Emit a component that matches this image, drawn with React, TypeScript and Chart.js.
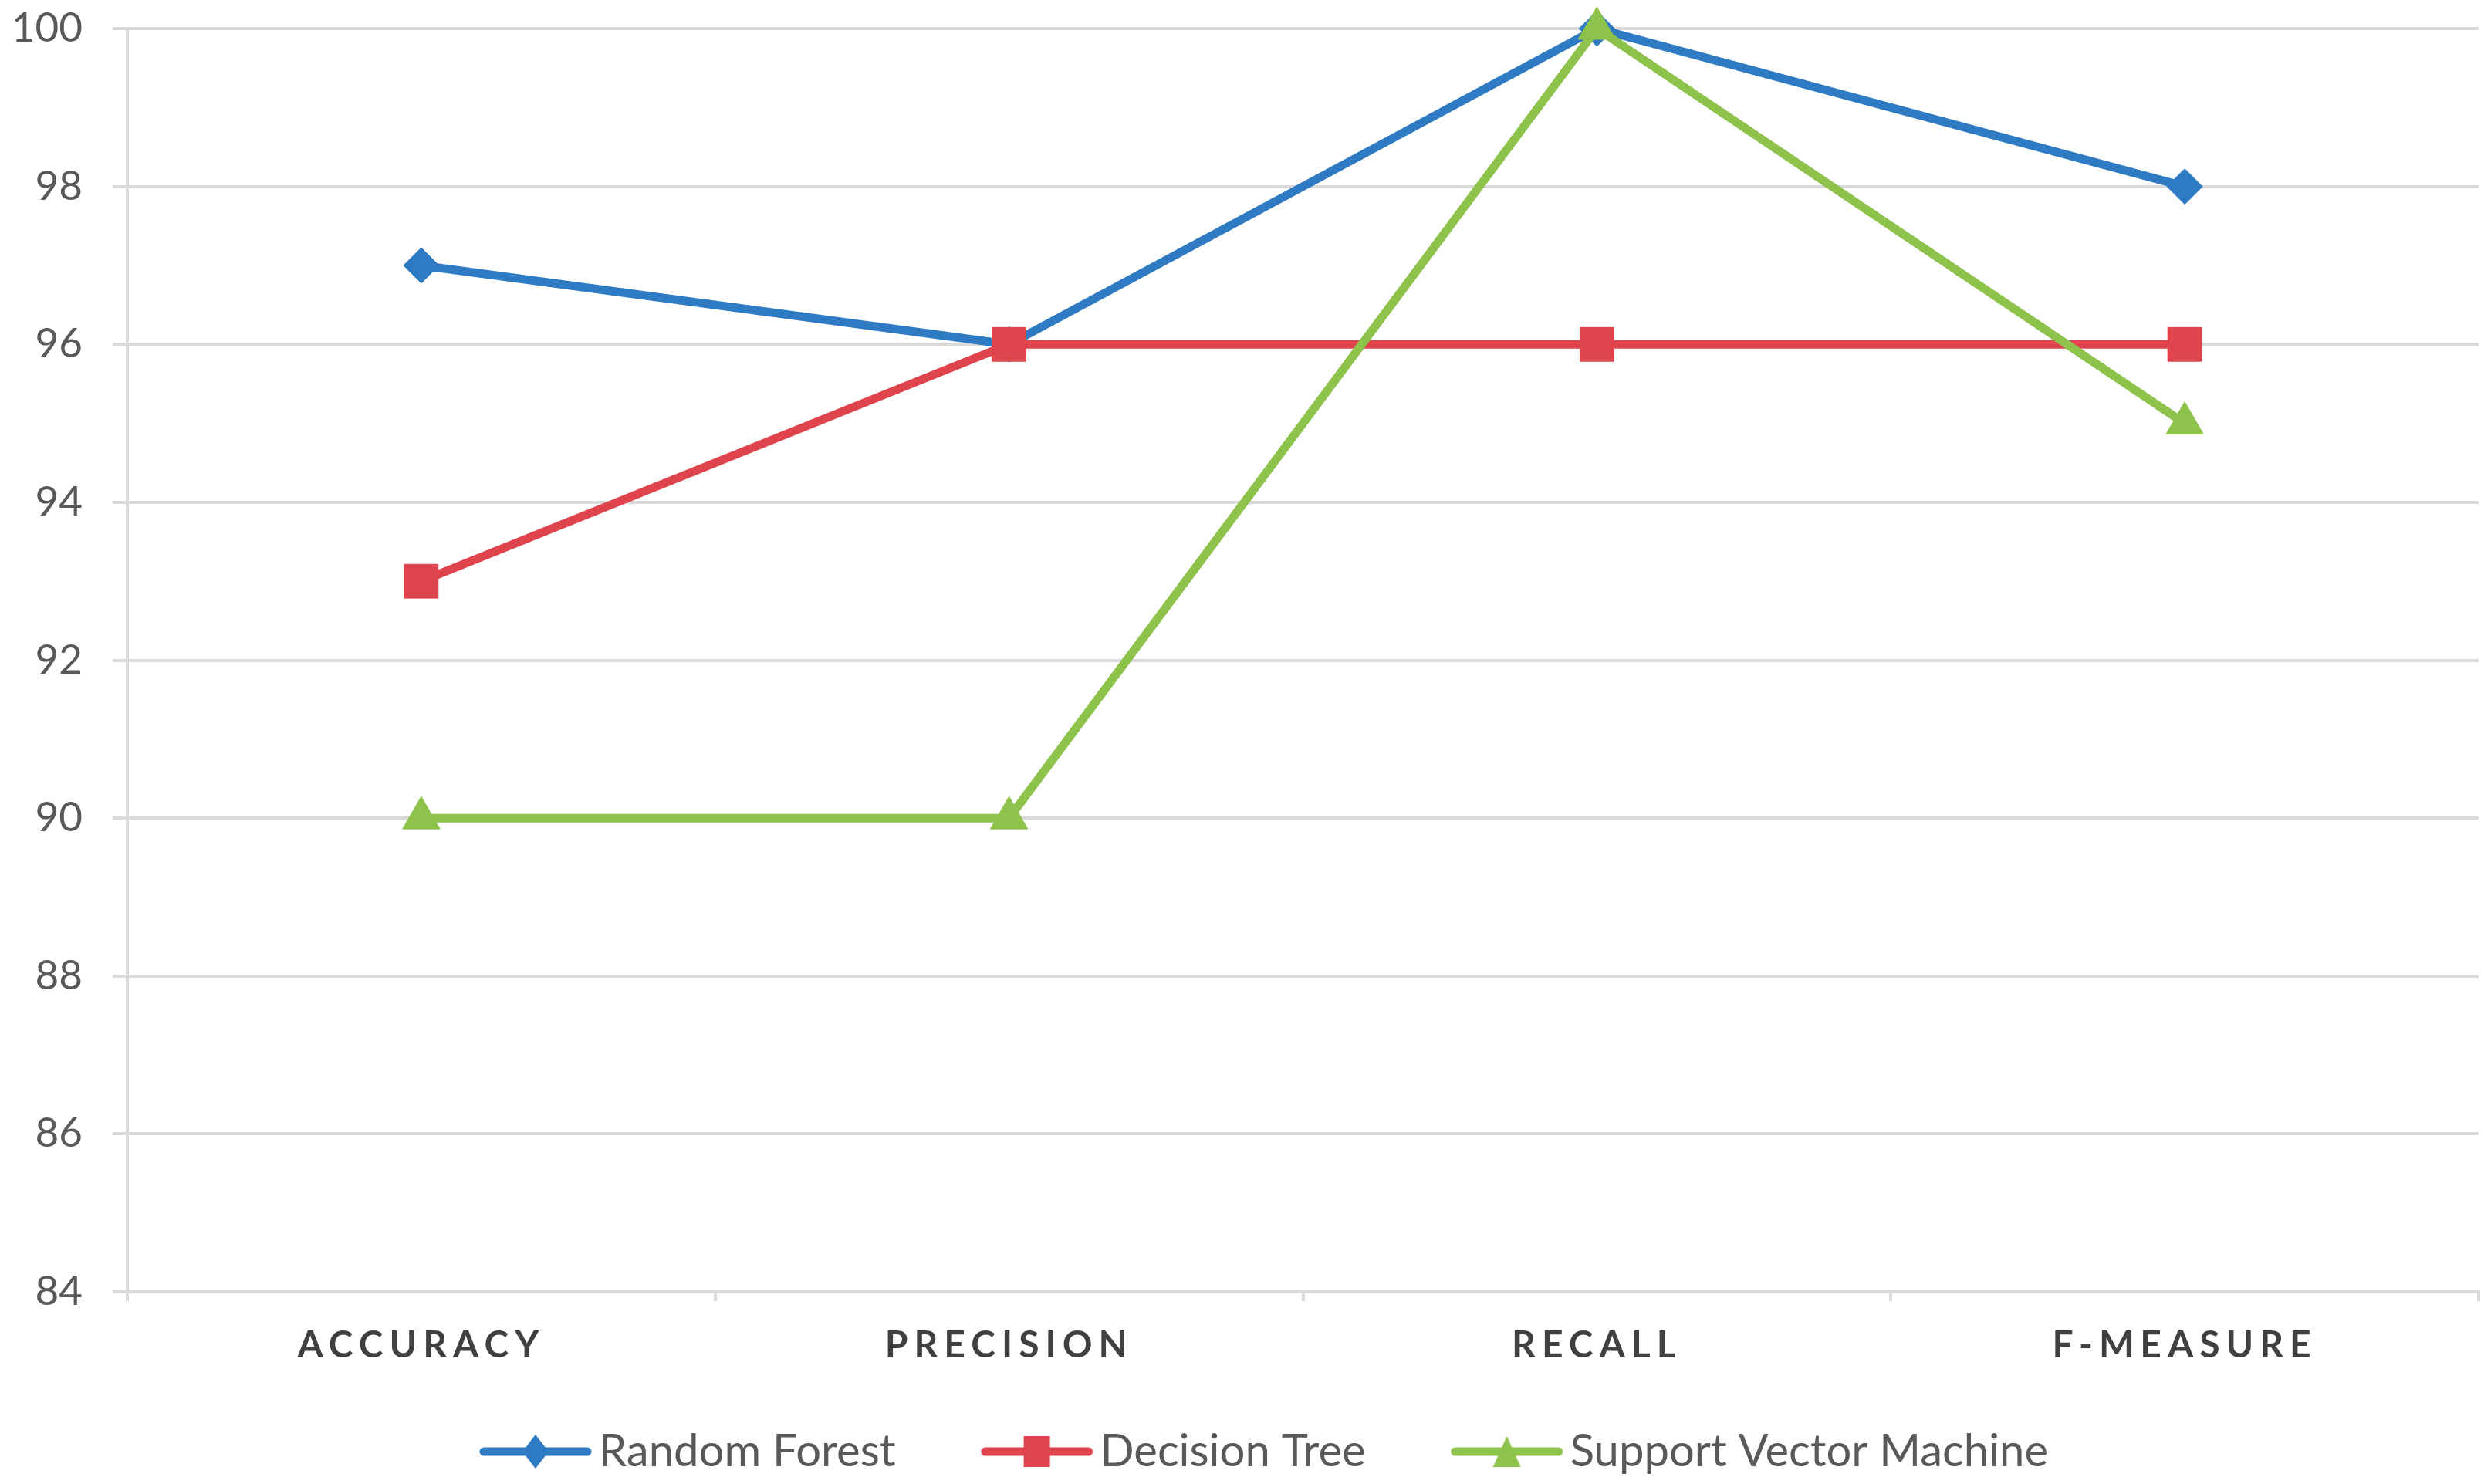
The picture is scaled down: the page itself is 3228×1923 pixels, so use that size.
import React, { useEffect, useRef } from 'react';
import { Chart, registerables } from 'chart.js';

Chart.register(...registerables);

const categories = ['ACCURACY', 'PRECISION', 'RECALL', 'F-MEASURE'];
const randomForest = [97, 96, 100, 98];
const decisionTree = [93, 96, 96, 96];
const supportVectorMachine = [90, 90, 100, 95];
const seriesNames = ['Random Forest', 'Decision Tree', 'Support Vector Machine'];
const yMin = 84;
const yMax = 100;
const yStep = 2;

const BLUE = '#2E7BC4';
const RED = '#DF444C';
const GREEN = '#8DC24B';
const GRID = '#D9D9D9';

function makeLegendIcon(color: string, shape: string) {
  const c = document.createElement('canvas');
  c.width = 146;
  c.height = 48;
  const ctx = c.getContext('2d')!;
  ctx.strokeStyle = color;
  ctx.lineWidth = 11;
  ctx.lineCap = 'round';
  ctx.beginPath();
  ctx.moveTo(6, 24);
  ctx.lineTo(140, 24);
  ctx.stroke();
  ctx.fillStyle = color;
  ctx.beginPath();
  if (shape === 'diamond') {
    ctx.moveTo(73, 2);
    ctx.lineTo(90, 24);
    ctx.lineTo(73, 46);
    ctx.lineTo(56, 24);
  } else if (shape === 'square') {
    ctx.rect(56, 4, 34, 40);
  } else {
    ctx.moveTo(73, 4);
    ctx.lineTo(91, 44);
    ctx.lineTo(55, 44);
  }
  ctx.closePath();
  ctx.fill();
  return c;
}

export default function App() {
  const ref = useRef<HTMLCanvasElement | null>(null);

  useEffect(() => {
    if (!ref.current) return;
    const icons = [
      makeLegendIcon(BLUE, 'diamond'),
      makeLegendIcon(RED, 'square'),
      makeLegendIcon(GREEN, 'triangle'),
    ];

    const layoutPlugin = {
      id: 'layoutTweaks',
      beforeLayout(chart: any) {
        const lg = chart.legend;
        if (lg && !lg.__patched) {
          const f = lg.fit.bind(lg);
          lg.fit = () => {
            f();
            lg.height = 201;
          };
          const d = lg.draw.bind(lg);
          lg.draw = (...args: any[]) => {
            const ctx = chart.ctx;
            ctx.save();
            ctx.translate(-41, 0);
            d(...args);
            ctx.restore();
          };
          lg.__patched = true;
        }
      },
      afterLayout(chart: any) {
        const s = chart.scales.x;
        if (s && !s.__patched) {
          const orig = s.drawLabels.bind(s);
          s._computeLabelArea = () => undefined;
          s.drawLabels = (area: any) => {
            const ctx = chart.ctx;
            ctx.save();
            (ctx as any).letterSpacing = '8px';
            orig(area);
            ctx.restore();
          };
          s.__patched = true;
        }
      },
    };

    const chart = new Chart(ref.current, {
      type: 'line',
      data: {
        labels: categories,
        datasets: [
          {
            label: seriesNames[0],
            data: randomForest,
            borderColor: BLUE,
            backgroundColor: BLUE,
            borderWidth: 11,
            pointStyle: 'rectRot',
            pointRadius: 23,
            pointBorderWidth: 1,
            pointBackgroundColor: BLUE,
            pointBorderColor: BLUE,
            order: 3,
            clip: false,
          },
          {
            label: seriesNames[1],
            data: decisionTree,
            borderColor: RED,
            backgroundColor: RED,
            borderWidth: 11,
            pointStyle: 'rect',
            pointRadius: 31,
            pointBorderWidth: 1,
            pointBackgroundColor: RED,
            pointBorderColor: RED,
            order: 2,
            clip: false,
          },
          {
            label: seriesNames[2],
            data: supportVectorMachine,
            borderColor: GREEN,
            backgroundColor: GREEN,
            borderWidth: 11,
            pointStyle: 'triangle',
            pointRadius: 28,
            pointBorderWidth: 1,
            pointBackgroundColor: GREEN,
            pointBorderColor: GREEN,
            order: 1,
            clip: false,
          },
        ] as any,
      },
      options: {
        responsive: false,
        animation: false,
        devicePixelRatio: 1,
        elements: {
          line: { tension: 0, borderJoinStyle: 'round', borderCapStyle: 'round' },
        },
        layout: { autoPadding: false, padding: { top: 37, right: 16, left: 0, bottom: 0 } },
        plugins: {
          tooltip: { enabled: false },
          title: { display: false },
          legend: {
            display: true,
            position: 'bottom',
            fullSize: false,
            labels: {
              usePointStyle: true,
              pointStyleWidth: 106,
              padding: 130,
              color: '#595959',
              font: { family: 'Lato', size: 58 },
              generateLabels: (ch: any) =>
                ch.data.datasets.map((ds: any, i: number) => ({
                  text: ds.label,
                  pointStyle: icons[i],
                  fillStyle: ds.borderColor,
                  strokeStyle: ds.borderColor,
                  lineWidth: 0,
                  hidden: false,
                  datasetIndex: i,
                  fontColor: '#595959',
                })),
            },
          },
        },
        scales: {
          x: {
            type: 'category',
            offset: true,
            afterFit: (s: any) => {
              s.height = 48;
              s.paddingLeft = 0;
              s.paddingRight = 0;
            },
            grid: {
              offset: true,
              drawOnChartArea: false,
              drawTicks: true,
              tickLength: 12,
              color: GRID,
              lineWidth: 4,
            },
            border: { display: true, color: GRID, width: 4 },
            ticks: {
              color: '#404040',
              font: { family: 'Lato', size: 48, weight: 'bold' },
              padding: 29,
              maxRotation: 0,
              autoSkip: false,
            },
          },
          y: {
            type: 'linear',
            min: yMin,
            max: yMax,
            afterFit: (s: any) => {
              s.width = 165;
              s.paddingTop = 0;
              s.paddingBottom = 0;
            },
            grid: {
              color: GRID,
              lineWidth: 4,
              drawTicks: true,
              tickLength: 19,
            },
            border: { display: true, color: GRID, width: 4 },
            ticks: {
              stepSize: yStep,
              color: '#595959',
              font: { family: 'Lato', size: 53 },
              padding: 39,
            },
          },
        },
      } as any,
      plugins: [layoutPlugin],
    });
    return () => chart.destroy();
  }, []);

  return (
    <div style={{ position: 'absolute', left: 0, top: 0, width: 3228, height: 1923, background: '#fff' }}>
      <canvas ref={ref} width={3228} height={1923} style={{ width: 3228, height: 1923, display: 'block' }} />
    </div>
  );
}
